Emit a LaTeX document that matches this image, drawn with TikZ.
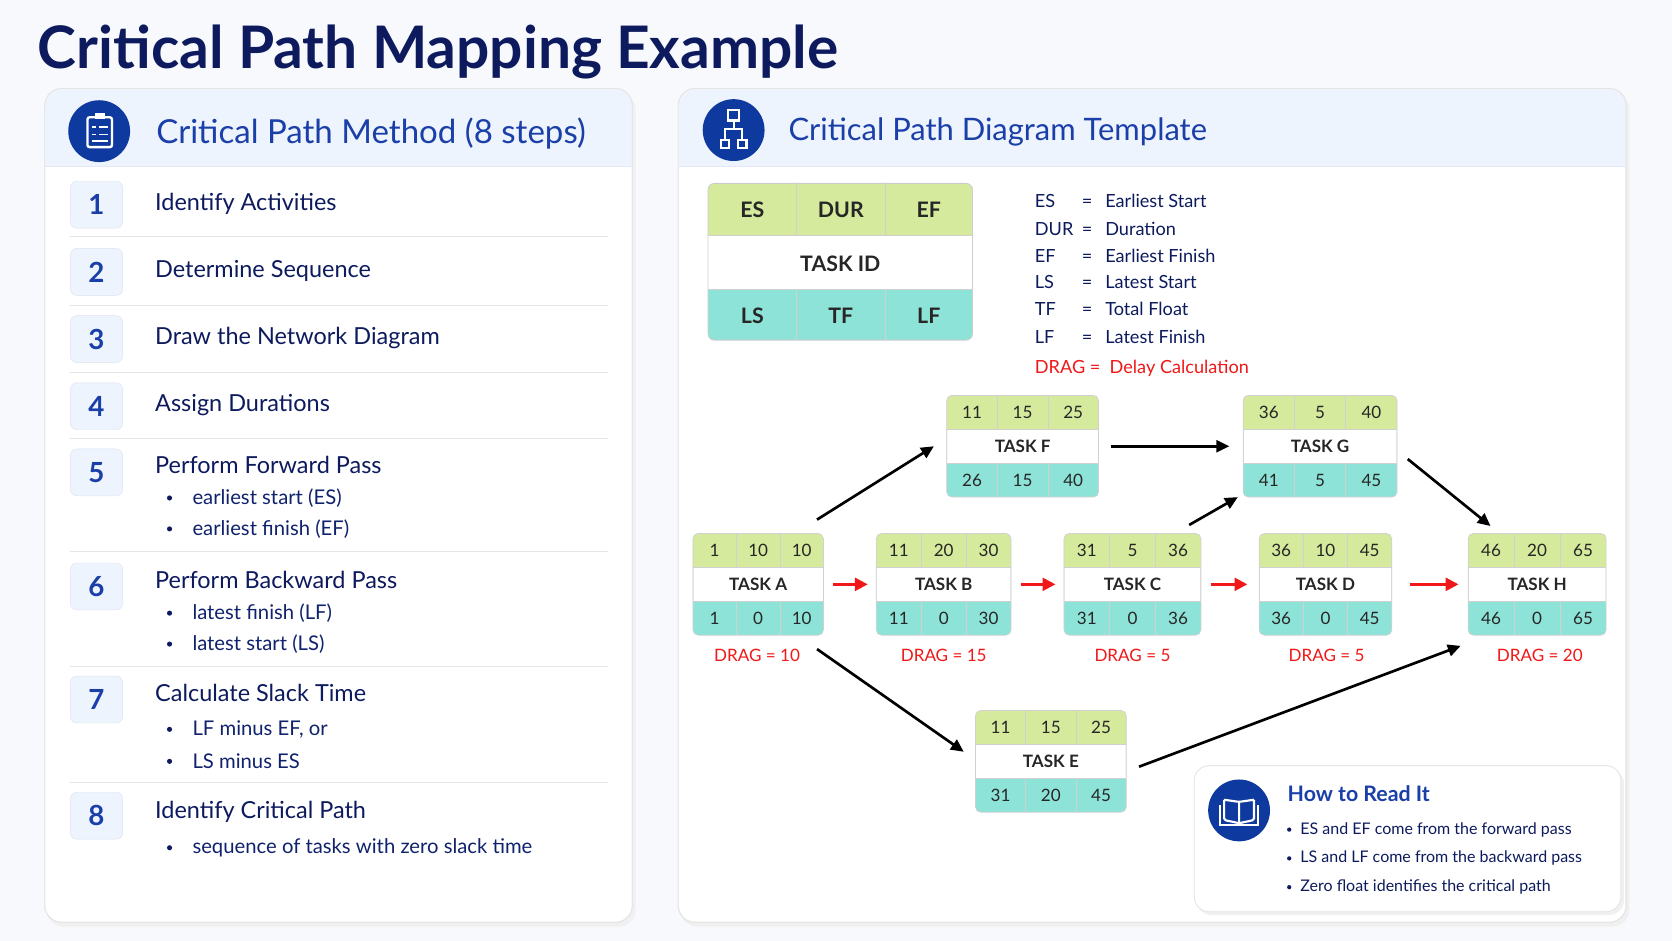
\documentclass[tikz,border=0pt]{standalone}
\usepackage{fontspec}
\setmainfont{Lato}
\usetikzlibrary{calc,arrows.meta}
\definecolor{navy}{HTML}{0D1B5E}
\definecolor{hblue}{HTML}{1A3FA8}
\definecolor{iconblue}{HTML}{0E3A9F}
\definecolor{hband}{HTML}{EEF4FD}
\definecolor{cgreen}{HTML}{D5EA9C}
\definecolor{cteal}{HTML}{8EE3D8}
\definecolor{dragred}{HTML}{F01818}
\definecolor{bg}{HTML}{F8F9FC}
\tikzset{
 x=1pt,y=-1pt,
 panel/.style={draw=black!10,fill=white,rounded corners=16,line width=0.8},
 numbox/.style={draw=hblue!15,fill=hband,rounded corners=6,minimum width=49pt,minimum height=44pt,font=\fontsize{26}{26}\selectfont\bfseries,text=hblue},
 steptxt/.style={anchor=west,font=\fontsize{22}{26}\selectfont,text=navy},
 bultxt/.style={anchor=west,font=\fontsize{19}{22}\selectfont,text=navy!80!hblue},
 sep/.style={draw=black!10,line width=0.8},
 tbox/.style={draw=black!18,fill=white,rounded corners=5,minimum height=95pt,inner sep=0},
 tline/.style={draw=black!18,line width=0.7},
 cell/.style={font=\fontsize{16}{16}\selectfont,text=black!85},
 tlab/.style={font=\fontsize{16}{16}\selectfont\bfseries,text=black!85},
 drag/.style={font=\fontsize{16}{16}\selectfont,text=dragred},
 barrow/.style={-{Triangle[length=12pt,width=11pt]},line width=2.5,black},
 rarrow/.style={-{Triangle[length=12pt,width=12pt]},line width=2.6,dragred},
 legk/.style={anchor=base west,font=\fontsize{17}{17}\selectfont,text=navy},
 icon/.style={fill=iconblue,circle,minimum size=58pt,inner sep=0},
}
\def\splitthree#1/#2/#3\end{\def\ta{#1}\def\tb{#2}\def\tc{#3}}
\newcommand\tasknode[6]{%
 \node[tbox,minimum width=#3] (#1) at (#2) {};
 \begin{scope}
 \clip[rounded corners=5] (#1.north west) rectangle (#1.south east);
 \fill[cgreen] (#1.north west) rectangle ($(#1.north east)+(0,31.5)$);
 \fill[cteal] ($(#1.south west)+(0,-31.5)$) rectangle (#1.south east);
 \end{scope}
 \draw[draw=black!18,rounded corners=5,line width=0.7] (#1.north west) rectangle (#1.south east);
 \draw[tline] ($(#1.north west)+(0,31.5)$) -- ($(#1.north east)+(0,31.5)$);
 \draw[tline] ($(#1.south west)+(0,-31.5)$) -- ($(#1.south east)+(0,-31.5)$);
 \draw[tline] ($(#1.north west)!1/3!(#1.north east)$) -- ++(0,31.5);
 \draw[tline] ($(#1.north west)!2/3!(#1.north east)$) -- ++(0,31.5);
 \draw[tline] ($(#1.south west)!1/3!(#1.south east)$) -- ++(0,-31.5);
 \draw[tline] ($(#1.south west)!2/3!(#1.south east)$) -- ++(0,-31.5);
 \splitthree#4\end
 \node[cell] at ($(#1.north west)!1/6!(#1.north east)+(0,16)$) {\ta};
 \node[cell] at ($(#1.north west)!3/6!(#1.north east)+(0,16)$) {\tb};
 \node[cell] at ($(#1.north west)!5/6!(#1.north east)+(0,16)$) {\tc};
 \node[tlab] at (#1.center) {#5};
 \splitthree#6\end
 \node[cell] at ($(#1.south west)!1/6!(#1.south east)+(0,-16)$) {\ta};
 \node[cell] at ($(#1.south west)!3/6!(#1.south east)+(0,-16)$) {\tb};
 \node[cell] at ($(#1.south west)!5/6!(#1.south east)+(0,-16)$) {\tc};
}
\begin{document}
\begin{tikzpicture}
\fill[bg] (0,0) rectangle (1568,882);
\useasboundingbox (0,0) rectangle (1568,882);
% title
\node[anchor=base west,font=\fontsize{55}{55}\selectfont\bfseries,text=navy] (title) at (32,64) {Critical Path Mapping Example};

% ---------- left panel
\fill[black!6,rounded corners=16] (44,87) rectangle (596,869);
\draw[panel] (42,83) rectangle (593,865);
\begin{scope}
\clip[rounded corners=16] (42,83) rectangle (593,865);
\fill[hband] (42,83) rectangle (593,156);
\end{scope}
\draw[draw=hblue!12,line width=0.8] (42,156) -- (593,156);
\draw[draw=black!10,rounded corners=16,line width=0.8] (42,83) rectangle (593,865);
\node[icon] (ic1) at (93,123) {};
% clipboard icon
\draw[white,line width=2.2,rounded corners=2] (82,110) rectangle (105,138);
\fill[white] (89,106) rectangle (98,112);
\draw[white,line width=1.6] (86,119) -- (90,119) (93,119) -- (101,119) (86,126) -- (90,126) (93,126)--(101,126) (86,132)--(101,132);
\node[anchor=west,font=\fontsize{31}{31}\selectfont,text=hblue] (h1) at (143,125) {Critical Path Method (8 steps)};

\foreach \n/\y in {1/192,2/255,3/318,4/381,5/443,6/550,7/656,8/765}{
 \node[numbox] (n\n) at (90.5,\y) {\n};
}
\node[steptxt] (s1) at (142,191) {Identify Activities};
\node[steptxt] (s2) at (142,254) {Determine Sequence};
\node[steptxt] (s3) at (142,317) {Draw the Network Diagram};
\node[steptxt] (s4) at (142,380) {Assign Durations};
\node[steptxt] (s5) at (142,436) {Perform Forward Pass};
\node[steptxt] (s6) at (142,544) {Perform Backward Pass};
\node[steptxt] (s7) at (142,650) {Calculate Slack Time};
\node[steptxt] (s8) at (142,761) {Identify Critical Path};
\foreach \y/\t [count=\i] in {467/earliest start (ES),496/earliest finish (EF),575/latest finish (LF),604/latest start (LS),684/{LF minus EF, or},714/LS minus ES,795/sequence of tasks with zero slack time}{
 \fill[navy] (159,\y) circle (2.4);
 \node[bultxt] (b\i) at (177,\y) {\t};
}
\foreach \y in {222,286,349,411,517,625,734}{\draw[sep] (66,\y) -- (570,\y);}

% ---------- right panel
\fill[black!6,rounded corners=16] (638,87) rectangle (1528,869);
\draw[panel] (636,83) rectangle (1525,865);
\begin{scope}
\clip[rounded corners=16] (636,83) rectangle (1525,865);
\fill[hband] (636,83) rectangle (1525,156);
\end{scope}
\draw[draw=hblue!12,line width=0.8] (636,156) -- (1525,156);
\draw[draw=black!10,rounded corners=16,line width=0.8] (636,83) rectangle (1525,865);
\node[icon] (ic2) at (688,122) {};
\draw[white,line width=2] (683,103) rectangle (693,113);
\draw[white,line width=2] (676,131) rectangle (684,139) (692,131) rectangle (700,139);
\draw[white,line width=2] (688,113) -- (688,121) (680,131) -- (680,121) -- (696,121) -- (696,131);
\node[anchor=west,font=\fontsize{29}{29}\selectfont,text=hblue] (h2) at (736,124) {Critical Path Diagram Template};

% template
\begin{scope}
\clip[rounded corners=6] (664,172) rectangle (912,319);
\fill[cgreen] (664,172) rectangle (912,221);
\fill[white] (664,221) rectangle (912,271);
\fill[cteal] (664,271) rectangle (912,319);
\end{scope}
\draw[draw=black!20,rounded corners=6,line width=0.8] (664,172) rectangle (912,319);
\draw[tline] (664,221) -- (912,221) (664,271) -- (912,271) (747,172) -- (747,221) (830,172) -- (830,221) (747,271) -- (747,319) (830,271) -- (830,319);
\foreach \x/\t in {705.5/ES,788.5/DUR,871/EF}{\node[font=\fontsize{20}{20}\selectfont\bfseries,text=black!85] at (\x,197) {\t};}
\node[font=\fontsize{20}{20}\selectfont\bfseries,text=black!85] (tid) at (788,247) {TASK ID};
\foreach \x/\t in {705.5/LS,788.5/TF,871/LF}{\node[font=\fontsize{20}{20}\selectfont\bfseries,text=black!85] at (\x,296) {\t};}

% legend
\foreach \y/\k/\v in {195/ES/Earliest Start,221/DUR/Duration,246/EF/Earliest Finish,271/LS/Latest Start,296/TF/Total Float,322/LF/Latest Finish}{
 \node[legk] at (967,\y) {\k};
 \node[legk] at (1011,\y) {=};
 \node[legk] at (1033,\y) {\v};
}
\node[legk,text=dragred] (dl) at (967,350) {DRAG =\ \ Delay Calculation};

% tasks
\tasknode{A}{711,548}{122pt}{1/10/10}{TASK A}{1/0/10}
\tasknode{B}{885,548}{126pt}{11/20/30}{TASK B}{11/0/30}
\tasknode{C}{1062,548}{128pt}{31/5/36}{TASK C}{31/0/36}
\tasknode{D}{1243,548}{124pt}{36/10/45}{TASK D}{36/0/45}
\tasknode{H}{1441.5,548}{129pt}{46/20/65}{TASK H}{46/0/65}
\tasknode{F}{959,418.5}{142pt}{11/15/25}{TASK F}{26/15/40}
\tasknode{G}{1238,418.5}{144pt}{36/5/40}{TASK G}{41/5/45}
\tasknode{E}{985.5,714}{141pt}{11/15/25}{TASK E}{31/20/45}

\node[drag] (dA) at (710,615) {DRAG = 10};
\node[drag] (dB) at (885,615) {DRAG = 15};
\node[drag] (dC) at (1062,615) {DRAG = 5};
\node[drag] (dD) at (1244,615) {DRAG = 5};
\node[drag] (dH) at (1444,615) {DRAG = 20};

% red arrows
\draw[rarrow] ($(A.east)+(9,0)$) -- ($(B.west)+(-8,0)$);
\draw[rarrow] ($(B.east)+(9,0)$) -- ($(C.west)+(-8,0)$);
\draw[rarrow] ($(C.east)+(9,0)$) -- ($(D.west)+(-11,0)$);
\draw[rarrow] ($(D.east)+(17,0)$) -- ($(H.west)+(-9,0)$);
% black arrows
\draw[barrow] ($(A.north east)+(-6,-13)$) -- ($(F.west)+(-12,0)$);
\draw[barrow] ($(F.east)+(12,0)$) -- ($(G.west)+(-13,0)$);
\draw[barrow] ($(C.north east)+(-11,-8)$) -- ($(G.south west)+(-5,0)$);
\draw[barrow] ($(G.east)+(10,12)$) -- ($(H.north west)+(21,-7)$);
\draw[barrow] ($(A.south east)+(-6,13)$) -- ($(E.west)+(-11,-9)$);
\draw[barrow] ($(E.east)+(12,5)$) -- ($(H.south west)+(-7,10)$);

% how to read
\fill[black!6,rounded corners=14] (1122,721) rectangle (1523,858);
\draw[fill=white,draw=black!10,rounded corners=14,line width=0.8] (1120,718) rectangle (1520,855);
\node[icon] (ic3) at (1162,760) {};
\draw[white,line width=2,rounded corners=1.5] (1162,752) -- (1162,772) (1148,750) -- (1148,769) -- (1162,772) -- (1176,769) -- (1176,750) (1148,750) -- (1162,752) -- (1176,750);
\draw[white,line width=2] (1144,755) -- (1144,774) -- (1180,774) -- (1180,755);
\node[anchor=base west,font=\fontsize{20}{20}\selectfont\bfseries,text=hblue] (hr) at (1204,752) {How to Read It};
\foreach \y/\t in {778/ES and EF come from the forward pass,805/LS and LF come from the backward pass,832/Zero float identifies the critical path}{
 \fill[navy] (1209,\y) circle (2);
 \node[anchor=west,font=\fontsize{15}{15}\selectfont,text=navy] at (1216,\y) {\t};
}
\end{tikzpicture}
\end{document}
